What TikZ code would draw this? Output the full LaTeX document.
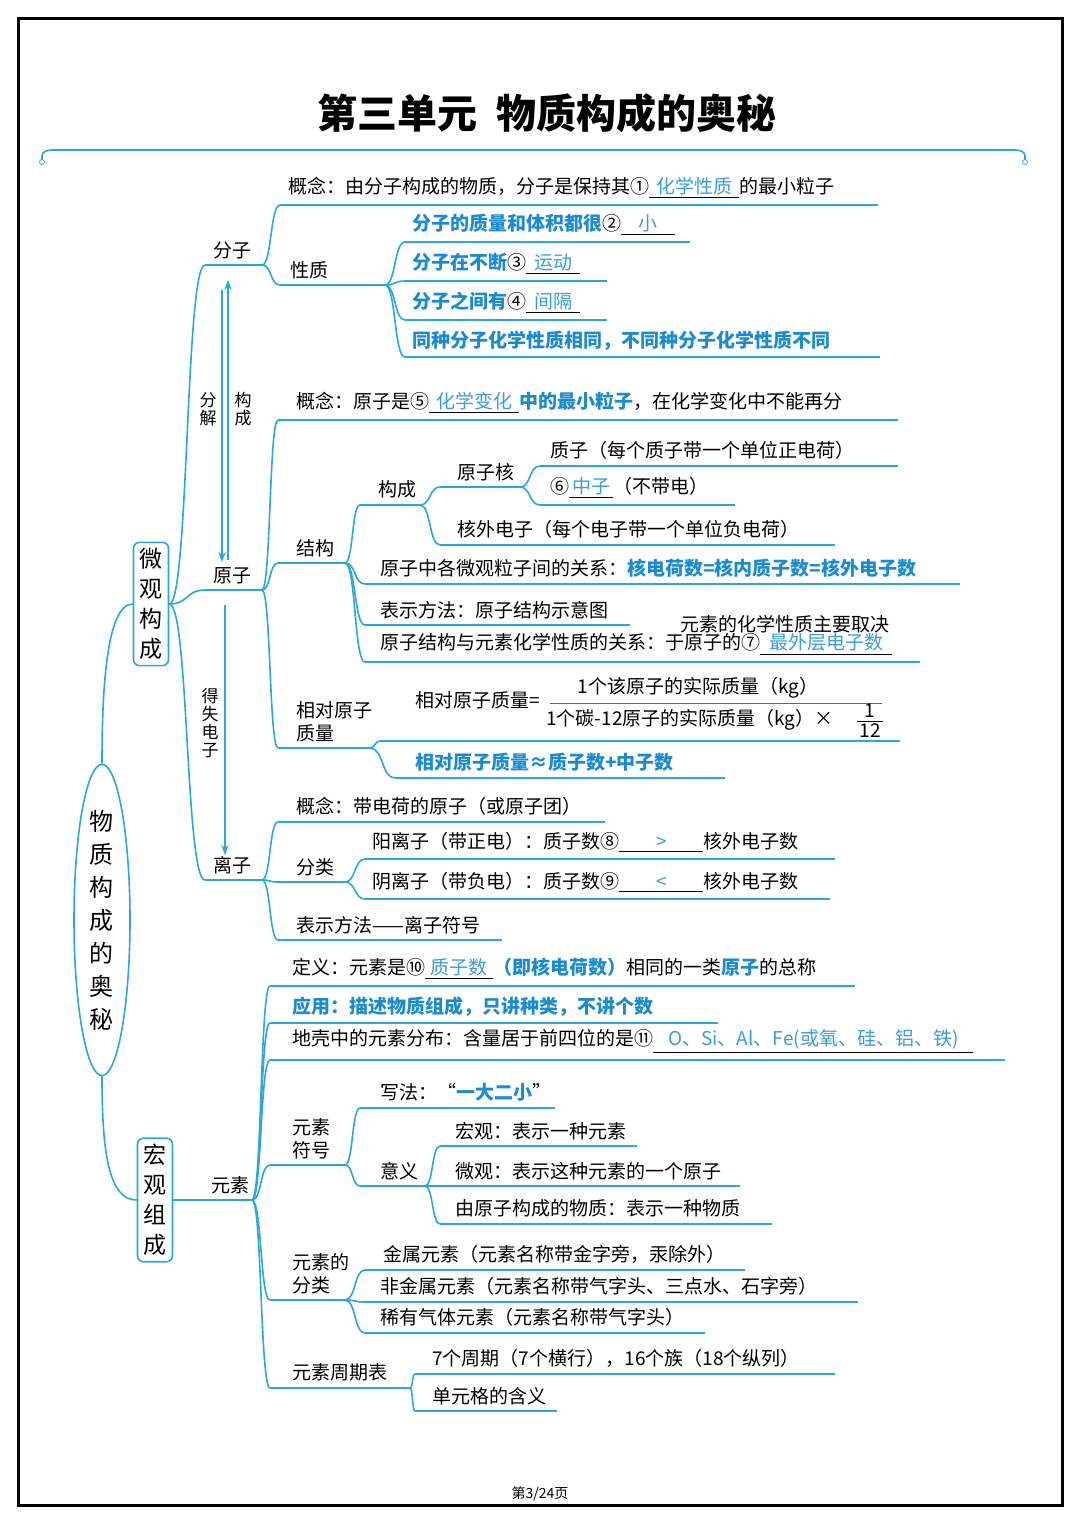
\documentclass[tikz,border=0pt]{standalone}
\usepackage{fontspec}
\setmainfont{Noto Sans CJK SC}
\usetikzlibrary{shapes.geometric,arrows.meta,calc}
\definecolor{cy}{HTML}{29A8DF}
\definecolor{bl}{HTML}{1A8AD4}
\definecolor{ans}{HTML}{3A9BE0}
\newcommand\hl[1]{{\color{bl}\bfseries #1}}
\newcommand\bk[2]{\underline{\makebox[#1]{\color{ans}#2}}}
% name, x1, x2, yline, textx, text
\newcommand\LF[6]{\coordinate (#1-s) at (#2,#4); \coordinate (#1-e) at (#3,#4);
 \draw[ul] (#1-s)--(#1-e);
 \node[txt] (#1) at (#5,#4-6) {#6};}
\newcommand\cn[2]{\draw[ul] let \p1=(#1-e), \p2=(#2-s) in (#1-e) .. controls (\x1*0.45+\x2*0.55,\y1) and (\x1*0.55+\x2*0.45,\y2) .. (#2-s);}
\begin{document}
\begin{tikzpicture}[x=0.5pt,y=-0.5pt,
 ul/.style={cy,line width=0.8pt},
 txt/.style={anchor=south west,inner sep=0pt,font=\fontsize{9.5}{11.5}\selectfont,align=left},
 box/.style={draw=cy,line width=0.8pt,rounded corners=3pt,inner sep=3pt,align=center,font=\fontsize{11.5}{15}\selectfont}]
\useasboundingbox (0,0) rectangle (1080,1527);
\draw[line width=1.5pt] (18,18) rectangle (1062,1505);
\node[font=\fontsize{20}{24}\selectfont\bfseries] (title) at (547,113) {第三单元\ \ 物质构成的奥秘};
\draw[ul] (42,160) -- (42,156) to[out=90,in=180] (52,150) -- (1015,150) to[out=0,in=90] (1025,156) -- (1025,160);
\draw[cy,fill=white] (42,162) circle (2.5); \draw[cy,fill=white] (1025,162) circle (2.5);
\node[font=\fontsize{7}{8}\selectfont] (foot) at (540,1494) {第3/24页};
% root
\node[ellipse,draw=cy,line width=0.8pt,minimum width=28pt,minimum height=146pt,inner sep=0pt,align=center,font=\fontsize{12}{16.5}\selectfont] (root) at (102,920) {物\\质\\构\\成\\的\\奥\\秘};
\node[box] (wei) at (151,604) {微\\观\\构\\成};
\node[box] (hong) at (155,1200) {宏\\观\\组\\成};
\draw[ul] (root.north) .. controls (102,700) and (105,604) .. (wei.west);
\draw[ul] (root.south) .. controls (102,1150) and (108,1200) .. (hong.west);
\coordinate (wei-e) at (wei.east); \coordinate (hong-e) at (hong.east);
% level 1
\LF{fz}{205}{262}{265}{213}{分子}
\LF{yz}{205}{262}{590}{213}{原子}
\LF{lz}{205}{262}{880}{213}{离子}
\LF{ys}{205}{252}{1200}{211}{元素}
\cn{wei}{fz}\cn{wei}{yz}\cn{wei}{lz}\cn{hong}{ys}
% arrows
\draw[cy,line width=0.6pt,-{Stealth[length=5pt]}] (222,290) -- (222,562);
\draw[cy,line width=0.6pt,-{Stealth[length=5pt]}] (228,560) -- (228,280);
\draw[cy,line width=0.6pt,-{Stealth[length=5pt]}] (225,605) -- (225,855);
\node[txt,anchor=center,font=\fontsize{8.5}{9}\selectfont] (fj) at (208,409) {分\\解};
\node[txt,anchor=center,font=\fontsize{8.5}{9}\selectfont] (gc) at (243,409) {构\\成};
\node[txt,anchor=center,font=\fontsize{8.5}{9}\selectfont] (dsdz) at (210,723) {得\\失\\电\\子};
% 分子
\LF{fz1}{280}{878}{205}{288}{概念：由分子构成的物质，分子是保持其①\bk{45pt}{化学性质}的最小粒子}
\LF{xz}{280}{385}{285}{290}{性质}
\cn{fz}{fz1}\cn{fz}{xz}
\LF{xz1}{405}{690}{242}{412}{\hl{分子的质量和体积都很}②\bk{27pt}{小}}
\LF{xz2}{405}{607}{281}{412}{\hl{分子在不断}③\bk{27pt}{运动}}
\LF{xz3}{405}{607}{320}{412}{\hl{分子之间有}④\bk{27pt}{间隔}}
\LF{xz4}{405}{880}{357}{412}{\hl{同种分子化学性质相同，不同种分子化学性质不同}}
\cn{xz}{xz1}\cn{xz}{xz2}\cn{xz}{xz3}\cn{xz}{xz4}
% 原子
\LF{yz1}{278}{898}{420}{296}{概念：原子是⑤\bk{45pt}{化学变化}\hl{中的最小粒子}，在化学变化中不能再分}
\LF{jg}{278}{345}{563}{296}{结构}
\LF{xd}{278}{370}{748}{296}{相对原子\\质量}
\cn{yz}{yz1}\cn{yz}{jg}\cn{yz}{xd}
\LF{gc2}{360}{420}{505}{378}{构成}
\LF{gx}{365}{960}{584}{380}{原子中各微观粒子间的关系：\hl{核电荷数=核内质子数=核外电子数}}
\LF{bs}{365}{630}{625}{380}{表示方法：原子结构示意图}
\LF{hx}{365}{920}{662}{380}{原子结构与元素化学性质的关系：于原子的⑦\bk{66pt}{最外层电子数}}
\node[txt] (hx2) at (680,633) {元素的化学性质主要取决};
\cn{jg}{gc2}\cn{jg}{gx}\cn{jg}{bs}\cn{jg}{hx}
\LF{yzh}{440}{520}{487}{457}{原子核}
\LF{hwdz}{440}{835}{545}{457}{核外电子（每个电子带一个单位负电荷）}
\cn{gc2}{yzh}\cn{gc2}{hwdz}
\LF{zz}{540}{898}{466}{550}{质子（每个质子带一个单位正电荷）}
\LF{zhz}{540}{735}{505}{550}{⑥\bk{22pt}{中子}（不带电）}
\cn{yzh}{zz}\cn{yzh}{zhz}
\LF{gs}{380}{900}{741}{415}{}
\node[txt,anchor=west] (gs1) at (415,700) {相对原子质量=};
\node[txt,anchor=center] (num) at (698,688) {1个该原子的实际质量（kg）};
\draw[gray!80!black,line width=0.5pt] (550,703) -- (882,703);
\node[txt,anchor=center] (den) at (690,720) {1个碳-12原子的实际质量（kg）×};
\node[txt,anchor=center] (f1) at (870,711) {1};
\node[txt,anchor=center] (f2) at (870,731) {12};
\draw[line width=0.5pt] (857,721) -- (883,721);
\LF{gs2}{395}{725}{778}{415}{\hl{相对原子质量≈质子数+中子数}}
\cn{xd}{gs}\cn{xd}{gs2}
% 离子
\LF{lz1}{278}{605}{822}{296}{概念：带电荷的原子（或原子团）}
\LF{fl}{278}{345}{882}{296}{分类}
\LF{lz3}{278}{502}{940}{296}{表示方法——离子符号}
\cn{lz}{lz1}\cn{lz}{fl}\cn{lz}{lz3}
\LF{yang}{365}{835}{859}{372}{阳离子（带正电）：质子数⑧\bk{42pt}{>}核外电子数}
\LF{yin}{365}{830}{899}{372}{阴离子（带负电）：质子数⑨\bk{42pt}{<}核外电子数}
\cn{fl}{yang}\cn{fl}{yin}
% 元素
\LF{dy}{270}{855}{986}{292}{定义：元素是⑩\bk{34pt}{质子数}\hl{（即核电荷数）}相同的一类\hl{原子}的总称}
\LF{yy}{270}{718}{1023}{292}{\hl{应用：描述物质组成，只讲种类，不讲个数}}
\LF{dq}{270}{1005}{1060}{292}{地壳中的元素分布：含量居于前四位的是⑪\bk{160pt}{O、Si、Al、Fe(或氧、硅、铝、铁)}}
\LF{fh}{270}{345}{1165}{292}{元素\\符号}
\LF{fl2}{270}{345}{1300}{292}{元素的\\分类}
\LF{zqb}{270}{410}{1388}{292}{元素周期表}
\cn{ys}{dy}\cn{ys}{yy}\cn{ys}{dq}\cn{ys}{fh}\cn{ys}{fl2}\cn{ys}{zqb}
\LF{xf}{360}{555}{1108}{380}{写法：“\hl{一大二小}”}
\LF{yi}{360}{425}{1186}{380}{意义}
\cn{fh}{xf}\cn{fh}{yi}
\LF{hg}{440}{637}{1146}{455}{宏观：表示一种元素}
\LF{wg}{440}{740}{1186}{455}{微观：表示这种元素的一个原子}
\LF{yzg}{440}{772}{1224}{455}{由原子构成的物质：表示一种物质}
\cn{yi}{hg}\cn{yi}{wg}\cn{yi}{yzg}
\LF{js}{365}{745}{1270}{383}{金属元素（元素名称带金字旁，汞除外）}
\LF{fjs}{365}{858}{1302}{380}{非金属元素（元素名称带气字头、三点水、石字旁）}
\LF{xy}{365}{705}{1333}{380}{稀有气体元素（元素名称带气字头）}
\cn{fl2}{js}\cn{fl2}{fjs}\cn{fl2}{xy}
\LF{zq1}{415}{835}{1374}{432}{7个周期（7个横行），16个族（18个纵列）}
\LF{zq2}{415}{557}{1411}{432}{单元格的含义}
\cn{zqb}{zq1}\cn{zqb}{zq2}
\end{tikzpicture}
\end{document}
